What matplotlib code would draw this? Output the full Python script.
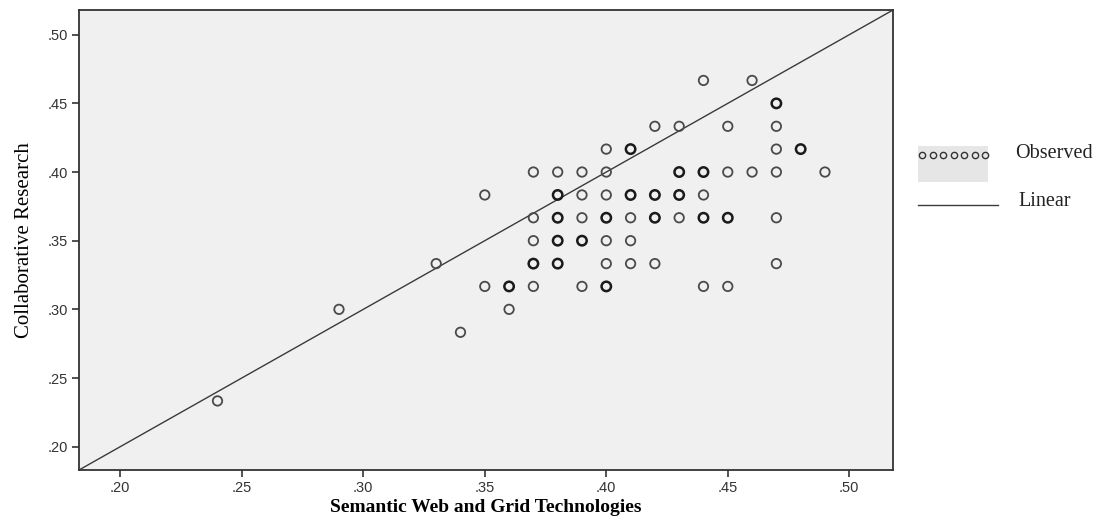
import matplotlib
matplotlib.use("Agg")
import matplotlib.pyplot as plt
from matplotlib.patches import Rectangle
from matplotlib.lines import Line2D

# ---- data ----
x_vals = [0.44, 0.46,
          0.47,
          0.42, 0.43, 0.45, 0.47,
          0.40, 0.41, 0.47, 0.48,
          0.37, 0.38, 0.39, 0.40, 0.43, 0.44, 0.45, 0.46, 0.47, 0.49,
          0.35, 0.38, 0.39, 0.40, 0.41, 0.42, 0.43, 0.44,
          0.37, 0.38, 0.39, 0.40, 0.41, 0.42, 0.43, 0.44, 0.45, 0.47,
          0.37, 0.38, 0.39, 0.40, 0.41,
          0.33, 0.37, 0.38, 0.40, 0.41, 0.42, 0.47,
          0.35, 0.36, 0.37, 0.39, 0.40, 0.44, 0.45,
          0.29, 0.36,
          0.34,
          0.24]
y_vals = [0.4667, 0.4667,
          0.4500,
          0.4333, 0.4333, 0.4333, 0.4333,
          0.4167, 0.4167, 0.4167, 0.4167,
          0.4000, 0.4000, 0.4000, 0.4000, 0.4000, 0.4000, 0.4000, 0.4000, 0.4000, 0.4000,
          0.3833, 0.3833, 0.3833, 0.3833, 0.3833, 0.3833, 0.3833, 0.3833,
          0.3667, 0.3667, 0.3667, 0.3667, 0.3667, 0.3667, 0.3667, 0.3667, 0.3667, 0.3667,
          0.3500, 0.3500, 0.3500, 0.3500, 0.3500,
          0.3333, 0.3333, 0.3333, 0.3333, 0.3333, 0.3333, 0.3333,
          0.3167, 0.3167, 0.3167, 0.3167, 0.3167, 0.3167, 0.3167,
          0.3000, 0.3000,
          0.2833,
          0.2333]
counts = [1, 1,
          2,
          1, 1, 1, 1,
          1, 2, 1, 2,
          1, 1, 1, 1, 2, 2, 1, 1, 1, 1,
          1, 2, 1, 1, 2, 2, 2, 1,
          1, 2, 1, 2, 1, 2, 1, 2, 2, 1,
          1, 2, 2, 1, 1,
          1, 2, 2, 1, 1, 1, 1,
          1, 2, 1, 1, 2, 1, 1,
          1, 1,
          1,
          1]
fit_intercept = 0.0
fit_slope = 1.0
x_ticks = [0.20, 0.25, 0.30, 0.35, 0.40, 0.45, 0.50]
y_ticks = [0.20, 0.25, 0.30, 0.35, 0.40, 0.45, 0.50]
tick_labels = [".20", ".25", ".30", ".35", ".40", ".45", ".50"]
x_label = "Semantic Web and Grid Technologies"
y_label = "Collaborative Research"
legend_labels = ["Observed", "Linear"]
axis_min, axis_max = 0.183, 0.518

W, H = 1106, 523
fig = plt.figure(figsize=(W / 100, H / 100), dpi=100)
fig.patch.set_facecolor("white")
ax = fig.add_axes([79 / W, 1 - 470 / H, (893 - 79) / W, (470 - 10) / H])
ax.set_facecolor("#f0f0f0")

# observed points
single_x = [x for x, c in zip(x_vals, counts) if c == 1]
single_y = [y for y, c in zip(y_vals, counts) if c == 1]
multi_x = [x for x, c in zip(x_vals, counts) if c > 1]
multi_y = [y for y, c in zip(y_vals, counts) if c > 1]
ax.scatter(single_x, single_y, s=46, facecolors="none", edgecolors="#4a4a4a",
           linewidths=1.3, zorder=3)
ax.scatter(multi_x, multi_y, s=46, facecolors="none", edgecolors="#1a1a1a",
           linewidths=1.8, zorder=3)

# linear fit
lx = [axis_min, axis_max]
ly = [fit_intercept + fit_slope * v for v in lx]
ax.plot(lx, ly, color="#3a3a3a", lw=1.0, zorder=2)

ax.set_xlim(axis_min, axis_max)
ax.set_ylim(axis_min, axis_max)
ax.set_xticks(x_ticks)
ax.set_xticklabels(tick_labels)
ax.set_yticks(y_ticks)
ax.set_yticklabels(tick_labels)
ax.tick_params(direction="out", length=5, width=1.2, color="#333333",
               labelsize=10.5, labelcolor="#333333", pad=3)
for lab in ax.get_xticklabels() + ax.get_yticklabels():
    lab.set_family("Liberation Sans")
for sp in ax.spines.values():
    sp.set_color("#333333")
    sp.set_linewidth(1.3)

ax.set_xlabel(x_label, family="Liberation Serif", fontweight="bold",
              fontsize=14, labelpad=3)
ax.set_ylabel(y_label, family="Liberation Serif", fontsize=15, labelpad=10)

# legend (outside, on the right)
fig.add_artist(Rectangle((918 / W, 1 - 182 / H), 70 / W, 36 / H,
                         transform=fig.transFigure, facecolor="#e6e6e6",
                         edgecolor="none"))
fig.add_artist(Line2D([922 / W + i * 10.5 / W for i in range(7)],
                      [1 - 155 / H] * 7, transform=fig.transFigure,
                      linestyle="none", marker="o", markersize=4.5,
                      markerfacecolor="none", markeredgecolor="#333333",
                      markeredgewidth=1.0))
fig.text(1015 / W, 1 - 153 / H, legend_labels[0], family="Liberation Serif",
         fontsize=14.5, va="center", ha="left", color="#222222")
fig.add_artist(Line2D([918 / W, 998 / W], [1 - 205 / H, 1 - 205 / H],
                      transform=fig.transFigure, color="#3a3a3a", lw=1.0))
fig.text(1018 / W, 1 - 202 / H, legend_labels[1], family="Liberation Serif",
         fontsize=14.5, va="center", ha="left", color="#222222")

fig.savefig("out.png", dpi=100)
